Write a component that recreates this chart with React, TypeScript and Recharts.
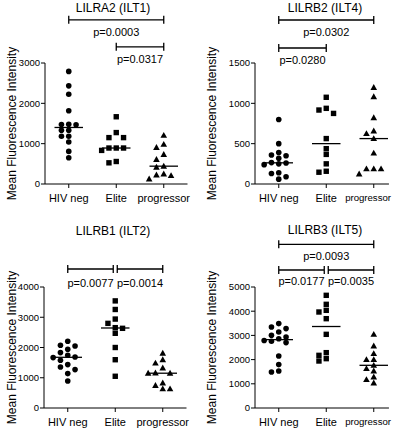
import { ScatterChart, Scatter, XAxis, YAxis, ReferenceLine } from 'recharts';

const FONT = '"Liberation Sans", Arial, sans-serif';
const GROUPS = ['HIV neg', 'Elite', 'progressor'];

// LILRA2 (ILT1)
const ilt1HivNeg = [2792, 2433, 2225, 1817, 1483, 1475, 1470, 1333, 1333, 1183, 1183, 1042, 808, 650];
const ilt1Elite = [1667, 1275, 1150, 1150, 892, 892, 892, 833, 558, 525];
const ilt1Prog = [1208, 983, 908, 733, 608, 442, 417, 250, 225, 208, 125];
const ilt1Ticks = [0, 1000, 2000, 3000];
const ilt1Brackets = [
  { from: 0, to: 2, level: 4070, p: 'p=0.0003' },
  { from: 1, to: 2, level: 3400, p: 'p=0.0317' },
];

// LILRB2 (ILT4)
const ilt4HivNeg = [800, 500, 390, 360, 350, 320, 265, 260, 250, 240, 140, 130, 90, 60];
const ilt4Elite = [1075, 938, 917, 875, 563, 438, 367, 250, 158, 146];
const ilt4Prog = [1196, 1083, 821, 658, 625, 563, 383, 188, 188, 188, 125];
const ilt4Ticks = [0, 500, 1000, 1500];
const ilt4Brackets = [
  { from: 0, to: 2, level: 2033, p: 'p=0.0302' },
  { from: 0, to: 1, level: 1686, p: 'p=0.0280' },
];

// LILRB1 (ILT2)
const ilt2HivNeg = [2205, 2073, 2050, 1940, 1831, 1742, 1686, 1666, 1577, 1435, 1355, 1269, 1137, 893];
const ilt2Elite = [3541, 3257, 2940, 2798, 2656, 2634, 2470, 2000, 1596, 1049];
const ilt2Prog = [1814, 1596, 1486, 1322, 1160, 1150, 1150, 830, 743, 634, 634];
const ilt2Ticks = [0, 1000, 2000, 3000, 4000];
const ilt2Brackets = [
  { from: 0, to: 1, level: 4595, p: 'p=0.0077' },
  { from: 1, to: 2, level: 4595, p: 'p=0.0014' },
];

// LILRB3 (ILT5)
const ilt5HivNeg = [3488, 3347, 3281, 3140, 3004, 2934, 2860, 2790, 2756, 2702, 2149, 1793, 1529, 1488];
const ilt5Elite = [4656, 4284, 4036, 3967, 3691, 3044, 2287, 2176, 2039, 1942];
const ilt5Prog = [3045, 2562, 2248, 2000, 2000, 1764, 1628, 1529, 1281, 1174, 1033];
const ilt5Ticks = [0, 1000, 2000, 3000, 4000, 5000];
const ilt5Brackets = [
  { from: 0, to: 2, level: 6764, p: 'p=0.0093' },
  { from: 0, to: 1, level: 5702, p: 'p=0.0177' },
  { from: 1, to: 2, level: 5702, p: 'p=0.0035' },
];

const CAT_PX = 47.5;
const PLOT_H = 121;
const COL_STEP = 7.3 / CAT_PX;

type Bracket = { from: number; to: number; level: number; p: string };

// prism-like column spread: points too close vertically get pushed sideways
function spread(values: number[], yMax: number, center: number) {
  const minGap = (5.5 * yMax) / PLOT_H;
  const placed: { slot: number; v: number }[] = [];
  const order = [0, -1, 1, -2, 2, -3, 3];
  return values.map((v) => {
    const slot = order.find((s) => !placed.some((p) => p.slot === s && Math.abs(p.v - v) < minGap)) ?? 0;
    placed.push({ slot, v });
    return { x: center + slot * COL_STEP, y: v };
  });
}

function median(values: number[]) {
  const s = [...values].sort((a, b) => a - b);
  const m = Math.floor(s.length / 2);
  return s.length % 2 ? s[m] : (s[m - 1] + s[m]) / 2;
}

const dot = (p: any) => <circle cx={p.cx} cy={p.cy} r={2.8} fill="#000" />;
const square = (p: any) => <rect x={p.cx - 2.7} y={p.cy - 2.7} width={5.4} height={5.4} fill="#000" />;
const triangle = (p: any) => (
  <polygon points={`${p.cx},${p.cy - 3.4} ${p.cx - 3.3},${p.cy + 2.5} ${p.cx + 3.3},${p.cy + 2.5}`} fill="#000" />
);
const SHAPES = [dot, square, triangle];

const bracketShape = (p: any) => (
  <path
    d={`M${p.x1},${p.y1 - 4}V${p.y1 + 4}M${p.x1},${p.y1}H${p.x2}M${p.x2},${p.y2 - 4}V${p.y2 + 4}`}
    stroke="#000"
    strokeWidth={1.3}
    fill="none"
  />
);

const yLabel = (props: any) => {
  const vb = props.viewBox || { y: 63, height: PLOT_H };
  const cx = 12;
  const cy = vb.y + vb.height / 2;
  return (
    <text
      x={cx}
      y={cy}
      transform={`rotate(-90 ${cx} ${cy})`}
      textAnchor="middle"
      dominantBaseline="central"
      fontSize={12}
      fontFamily={FONT}
      fill="#000"
    >
      Mean Fluorescence Intensity
    </text>
  );
};

// category label; one that would run past the panel edge gets a smaller font and is pulled in
const catTick = (p: any) => {
  const label = GROUPS[p.payload.value];
  const tooWide = p.x + (label.length * 5.3) / 2 > 192;
  return (
    <text
      x={tooWide ? 191 : p.x}
      y={p.y}
      dy="0.71em"
      textAnchor={tooWide ? 'end' : 'middle'}
      fontSize={tooWide ? 9.6 : 11}
      fontFamily={FONT}
      fill="#000"
    >
      {label}
    </text>
  );
};

interface PanelProps {
  title: string;
  groups: number[][];
  ticks: number[];
  brackets: Bracket[];
  left: number;
  top: number;
  axisW: number;
  xMax: number;
  titleX: number;
  titleBase: number;
  labelGap: number;
}

function Panel({ title, groups, ticks, brackets, left, top, axisW, xMax, titleX, titleBase, labelGap }: PanelProps) {
  const yMax = ticks[ticks.length - 1];
  const plotW = (xMax + 0.5) * CAT_PX;
  const trim = 2 / CAT_PX;

  return (
    <div style={{ position: 'absolute', left, top, width: 200, height: 215 }}>
      <div
        style={{
          position: 'absolute',
          left: titleX - 100,
          width: 200,
          top: titleBase - 10.2,
          textAlign: 'center',
          fontSize: 12,
          lineHeight: '12px',
          fontFamily: FONT,
          color: '#000',
          whiteSpace: 'nowrap',
        }}
      >
        {title}
      </div>
      <ScatterChart width={200} height={215} margin={{ top: 63, right: 200 - axisW - plotW, bottom: 6, left: 0 }}>
        <XAxis
          type="number"
          dataKey="x"
          domain={[-0.5, xMax]}
          ticks={[0, 1, 2]}
          allowDataOverflow
          height={25}
          tickSize={4}
          tickMargin={6}
          tick={catTick}
          axisLine={{ stroke: '#000' }}
          tickLine={{ stroke: '#000' }}
        />
        <YAxis
          type="number"
          dataKey="y"
          domain={[0, yMax]}
          ticks={ticks}
          interval={0}
          width={axisW}
          tickSize={4}
          tickMargin={1}
          tick={{ fill: '#000', fontSize: 9.5, fontFamily: FONT }}
          axisLine={{ stroke: '#000' }}
          tickLine={{ stroke: '#000' }}
          label={{ content: yLabel }}
        />
        {groups.map((vals, i) => (
          <Scatter key={GROUPS[i]} data={spread(vals, yMax, i)} shape={SHAPES[i]} isAnimationActive={false} />
        ))}
        {groups.map((vals, i) => {
          const m = median(vals);
          return (
            <ReferenceLine
              key={'m' + i}
              segment={[
                { x: i - 0.3, y: m },
                { x: i + 0.3, y: m },
              ]}
              stroke="#000"
              strokeWidth={1.3}
              ifOverflow="visible"
            />
          );
        })}
        {brackets.map((b, k) => {
          const shared = (cat: number) => brackets.some((o, j) => j !== k && o.level === b.level && (o.from === cat || o.to === cat));
          const x1 = b.from + (shared(b.from) ? trim : 0);
          const x2 = b.to - (shared(b.to) ? trim : 0);
          return (
            <ReferenceLine
              key={'b' + k}
              segment={[
                { x: x1, y: b.level },
                { x: x2, y: b.level },
              ]}
              shape={bracketShape}
              ifOverflow="visible"
              label={{ value: b.p, position: 'bottom', offset: labelGap, fill: '#000', fontSize: 11, fontFamily: FONT }}
            />
          );
        })}
      </ScatterChart>
    </div>
  );
}

export default function App() {
  return (
    <div style={{ position: 'absolute', left: 0, top: 0, width: 400, height: 430, background: '#fff', overflow: 'hidden' }}>
      <Panel
        title="LILRA2 (ILT1)"
        groups={[ilt1HivNeg, ilt1Elite, ilt1Prog]}
        ticks={ilt1Ticks}
        brackets={ilt1Brackets}
        left={0}
        top={0}
        axisW={45}
        xMax={2.5}
        titleX={113}
        titleBase={12.5}
        labelGap={8}
      />
      <Panel
        title="LILRB2 (ILT4)"
        groups={[ilt4HivNeg, ilt4Elite, ilt4Prog]}
        ticks={ilt4Ticks}
        brackets={ilt4Brackets}
        left={200}
        top={0}
        axisW={55}
        xMax={2.32}
        titleX={125}
        titleBase={12}
        labelGap={8}
      />
      <Panel
        title="LILRB1 (ILT2)"
        groups={[ilt2HivNeg, ilt2Elite, ilt2Prog]}
        ticks={ilt2Ticks}
        brackets={ilt2Brackets}
        left={0}
        top={224}
        axisW={44}
        xMax={2.5}
        titleX={113}
        titleBase={11}
        labelGap={10}
      />
      <Panel
        title="LILRB3 (ILT5)"
        groups={[ilt5HivNeg, ilt5Elite, ilt5Prog]}
        ticks={ilt5Ticks}
        brackets={ilt5Brackets}
        left={200}
        top={224}
        axisW={55}
        xMax={2.32}
        titleX={125}
        titleBase={10.5}
        labelGap={7.5}
      />
    </div>
  );
}
